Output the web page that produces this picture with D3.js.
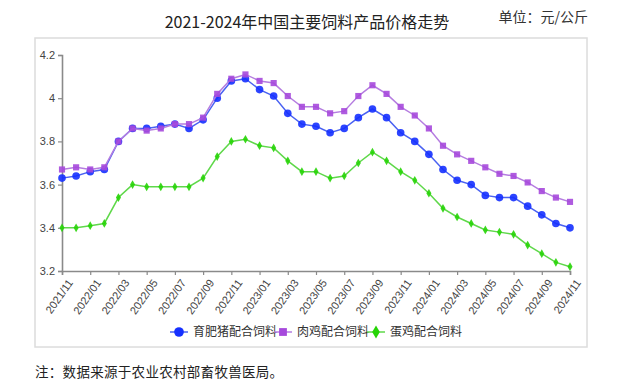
<!DOCTYPE html>
<html><head><meta charset="utf-8">
<script src="https://cdn.jsdelivr.net/npm/d3@7/dist/d3.min.js"></script>
<style>body{margin:0;background:#fff;} svg{display:block;}</style>
</head><body>
<svg id="c" width="620" height="382"></svg>
<script>
const months = ["2021/11","2021/12","2022/01","2022/02","2022/03","2022/04","2022/05","2022/06","2022/07","2022/08","2022/09","2022/10","2022/11","2022/12","2023/01","2023/02","2023/03","2023/04","2023/05","2023/06","2023/07","2023/08","2023/09","2023/10","2023/11","2023/12","2024/01","2024/02","2024/03","2024/04","2024/05","2024/06","2024/07","2024/08","2024/09","2024/10","2024/11"];
const pig = [3.63,3.64,3.66,3.67,3.80,3.86,3.86,3.87,3.88,3.86,3.90,4.00,4.08,4.09,4.04,4.01,3.93,3.88,3.87,3.84,3.86,3.91,3.95,3.91,3.84,3.80,3.74,3.67,3.62,3.60,3.55,3.54,3.54,3.50,3.46,3.42,3.40];
const broiler = [3.67,3.68,3.67,3.68,3.80,3.86,3.85,3.86,3.88,3.88,3.91,4.02,4.09,4.11,4.08,4.07,4.01,3.96,3.96,3.93,3.94,4.01,4.06,4.02,3.96,3.92,3.86,3.78,3.74,3.71,3.68,3.65,3.64,3.61,3.57,3.54,3.52];
const layer = [3.40,3.40,3.41,3.42,3.54,3.60,3.59,3.59,3.59,3.59,3.63,3.73,3.80,3.81,3.78,3.77,3.71,3.66,3.66,3.63,3.64,3.70,3.75,3.71,3.66,3.62,3.56,3.49,3.45,3.42,3.39,3.38,3.37,3.32,3.28,3.24,3.22];
const seriesNames = ["育肥猪配合饲料","肉鸡配合饲料","蛋鸡配合饲料"];
const yTicks = [3.2,3.4,3.6,3.8,4,4.2];
const xTickLabels = months.filter((m,i)=>i%2===0);

const svg = d3.select("#c");
const font = "'Liberation Sans', Arial, sans-serif";
const cjk = "'Noto Sans CJK SC', sans-serif";

svg.append("rect").attr("x",35).attr("y",38).attr("width",552).attr("height",309)
  .attr("fill","none").attr("stroke","#dcdcdc").attr("stroke-width",1.5);

svg.append("text").attr("x",307).attr("y",28).attr("text-anchor","middle")
  .attr("font-family",cjk).attr("font-size",16).attr("fill","#222")
  .text("2021-2024年中国主要饲料产品价格走势");
svg.append("text").attr("x",588).attr("y",22).attr("text-anchor","end")
  .attr("font-family",cjk).attr("font-size",14).attr("fill","#333")
  .text("单位：元/公斤");
svg.append("text").attr("x",35).attr("y",377)
  .attr("font-family",cjk).attr("font-size",13.5).attr("fill","#222")
  .attr("letter-spacing",0.3)
  .text("注：数据来源于农业农村部畜牧兽医局。");

const x = d3.scalePoint().domain(months).range([62,570]);
const y = d3.scaleLinear().domain([3.2,4.2]).range([271,55]);

const yAxis = svg.append("g").attr("transform","translate(62,0)")
  .call(d3.axisLeft(y).tickValues(yTicks).tickSize(4).tickPadding(3).tickFormat(d3.format("")));
const xAxis = svg.append("g").attr("transform","translate(0,271)")
  .call(d3.axisBottom(x).tickValues(xTickLabels).tickSize(4).tickPadding(2));
[yAxis,xAxis].forEach(a=>{
  a.select(".domain").attr("stroke","#8a8a8a").attr("stroke-width",1.6);
  a.selectAll(".tick line").attr("stroke","#8a8a8a").attr("stroke-width",1.2);
  a.selectAll("text").attr("font-family",font).attr("font-size",11).attr("fill","#444");
});
xAxis.selectAll("text").attr("text-anchor","end").attr("dy","0.35em")
  .attr("transform","translate(3,6) rotate(-55)");

const cfg = [
  {data:pig, line:"#4a62f2", mark:"#1530ff", shape:d3.symbolCircle, size:46},
  {data:broiler, line:"#b57de0", mark:"#a649dc", shape:d3.symbolSquare, size:38},
  {data:layer, line:"#5fd84a", mark:"#26d406", shape:d3.symbolDiamond, size:22}
];
const line = d3.line().x((d,i)=>x(months[i])).y(d=>y(d));
cfg.forEach(c=>{
  svg.append("path").datum(c.data).attr("d",line).attr("fill","none")
    .attr("stroke",c.line).attr("stroke-width",1.5);
  svg.append("g").selectAll("path").data(c.data).join("path")
    .attr("transform",(d,i)=>`translate(${x(months[i])},${y(d)})`)
    .attr("d",d3.symbol().type(c.shape).size(c.size)).attr("fill",c.mark).attr("opacity",0.9);
});

const legX = [179,283,376];
cfg.forEach((c,i)=>{
  const g = svg.append("g").attr("transform",`translate(${legX[i]},332)`);
  g.append("line").attr("x1",-9).attr("x2",9).attr("stroke",c.line).attr("stroke-width",1.5);
  g.append("path").attr("d",d3.symbol().type(c.shape).size(i===2?50:c.size*1.6)).attr("fill",c.mark);
  g.append("text").attr("x",14).attr("y",0).attr("dy","0.35em")
    .attr("font-family",cjk).attr("font-size",12).attr("fill","#333").text(seriesNames[i]);
});
</script>
</body></html>
